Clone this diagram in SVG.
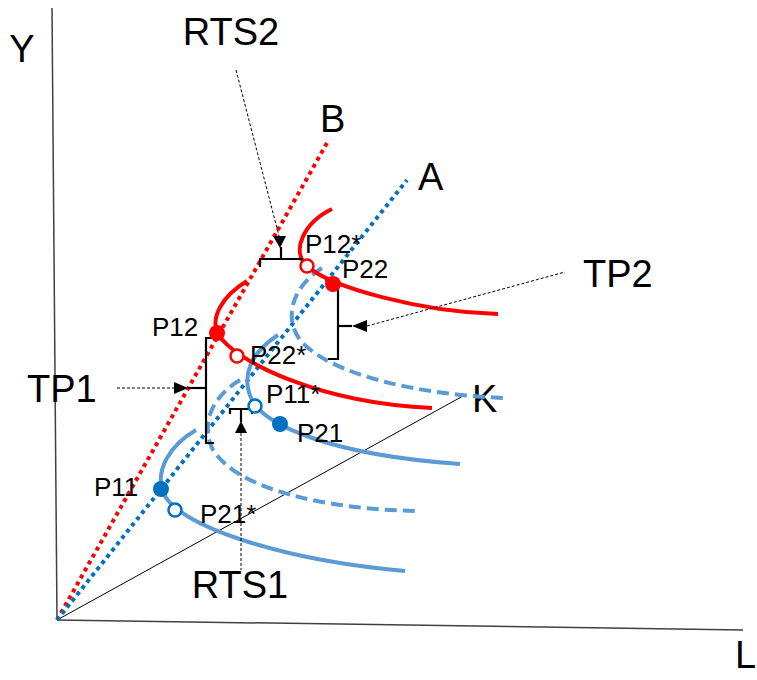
<svg xmlns="http://www.w3.org/2000/svg" width="757" height="680" viewBox="0 0 757 680">
<style>
.lbl{font-family:"Liberation Sans",Arial,sans-serif;fill:#000}
.big{font-size:38px}
.sm{font-size:26px}
.axis{stroke:#404040;stroke-width:1.5;fill:none}
.red{stroke:#FF0000;stroke-width:4;fill:none}
.lb{stroke:#5B9BD5;stroke-width:4;fill:none}
.lbd{stroke:#5B9BD5;stroke-width:4;fill:none;stroke-dasharray:12 6}
.dotr{stroke:#FF0000;stroke-width:4;fill:none;stroke-dasharray:4 4}
.dotb{stroke:#0070C0;stroke-width:4;fill:none;stroke-dasharray:4 4}
.lead{stroke:#000;stroke-width:1;fill:none;stroke-dasharray:3 2}
.brk{stroke:#000;stroke-width:2.2;fill:none}
.arr{fill:#000}
.fr{fill:#FF0000}
.fb{fill:#0070C0}
.or{fill:#fff;stroke:#FF0000;stroke-width:2.5}
.ob{fill:#fff;stroke:#0070C0;stroke-width:2.5}
</style>
<g id="axes">
<line class="axis" x1="52" y1="8" x2="57" y2="620"/>
<line class="axis" x1="57" y1="620" x2="743" y2="630"/>
<text class="lbl big" x="22" y="62" text-anchor="middle">Y</text>
<text class="lbl big" x="735" y="668">L</text>
</g>
<g id="rays">
<line stroke="#000" stroke-width="1" x1="57" y1="620" x2="463" y2="396"/>
<line class="dotr" x1="57" y1="620" x2="327" y2="143"/>
<line class="dotb" x1="57" y1="620" x2="407" y2="180"/>
<text class="lbl big" x="320" y="132">B</text>
<text class="lbl big" x="418" y="190">A</text>
<text class="lbl big" x="472" y="412">K</text>
</g>
<g id="curves">
<path class="lbd" d="M 322 268 C 295 285, 282 315, 300 340 C 330 375, 420 395, 505 398"/>
<path class="lbd" d="M 240 380 C 215 395, 200 420, 212 448 C 235 490, 330 510, 420 511"/>
<path class="lb" d="M 278 335 C 252 352, 240 375, 252 400 C 265 425, 330 455, 460 464"/>
<path class="lb" d="M 196 430 C 170 445, 155 470, 163 492 C 175 525, 280 560, 405 571"/>
<path class="red" d="M 332 209 C 305 222, 290 250, 307 266 C 330 287, 420 312, 498 314"/>
<path class="red" d="M 247 281 C 222 296, 210 318, 218 334 C 235 362, 320 403, 432 408"/>
</g>
<g id="connectors">
<line class="lead" x1="236" y1="70" x2="279" y2="236"/>
<polygon class="arr" points="273,236 286,236 280,248"/>
<polyline class="brk" points="281,247 281,259"/>
<polyline class="brk" points="260,267 260,259 302,259 302,267"/>
<line class="lead" x1="367" y1="326" x2="565" y2="272"/>
<polygon class="arr" points="367,320 367,332 352,326"/>
<polyline class="brk" points="352,326 338,326"/>
<polyline class="brk" points="328,289 338,289 338,359 328,359"/>
<line class="lead" x1="117" y1="388" x2="174" y2="388"/>
<polygon class="arr" points="174,382 174,394 188,388"/>
<polyline class="brk" points="188,388 206,388"/>
<polyline class="brk" points="214,338 206,338 206,443 214,443"/>
<line class="lead" x1="241" y1="433" x2="241" y2="570"/>
<polygon class="arr" points="235,433 247,433 241,421"/>
<polyline class="brk" points="241,422 241,409"/>
<polyline class="brk" points="230,414 230,409 252,409 252,414"/>
<text class="lbl big" x="231" y="45" text-anchor="middle">RTS2</text>
<text class="lbl big" x="583" y="287">TP2</text>
<text class="lbl big" x="27" y="402">TP1</text>
<text class="lbl big" x="240" y="598" text-anchor="middle">RTS1</text>
</g>
<g id="P12"><circle class="fr" cx="217" cy="333" r="8"/><text class="lbl sm" x="152" y="336">P12</text></g>
<g id="P22"><circle class="fr" cx="333" cy="284" r="8"/><text class="lbl sm" x="342" y="278">P22</text></g>
<g id="P12s"><circle class="or" cx="307" cy="266" r="6.5"/><text class="lbl sm" x="305" y="253">P12*</text></g>
<g id="P22s"><circle class="or" cx="237" cy="356" r="6.5"/><text class="lbl sm" x="250" y="364">P22*</text></g>
<g id="P11s"><circle class="ob" cx="255" cy="406" r="6.5"/><text class="lbl sm" x="266" y="403">P11*</text></g>
<g id="P21"><circle class="fb" cx="280" cy="424" r="8"/><text class="lbl sm" x="297" y="442">P21</text></g>
<g id="P11"><circle class="fb" cx="161" cy="489" r="8"/><text class="lbl sm" x="94" y="496">P11</text></g>
<g id="P21s"><circle class="ob" cx="175" cy="510" r="6.5"/><text class="lbl sm" x="200" y="523">P21*</text></g>
</svg>
